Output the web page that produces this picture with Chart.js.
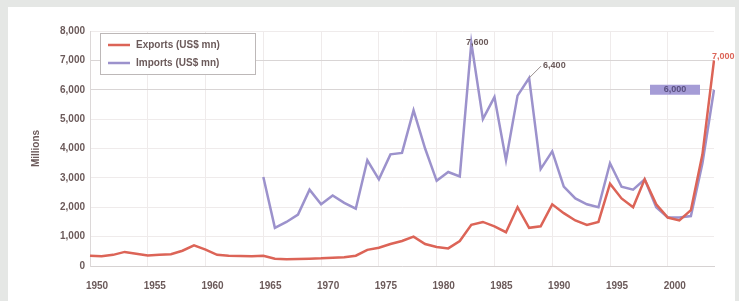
<!DOCTYPE html>
<html>
<head>
<meta charset="utf-8">
<script src="https://cdn.jsdelivr.net/npm/chart.js@4"></script>
<style>
  body { margin: 0; background: #e5e7e5; width: 739px; height: 301px; overflow: hidden; }
  #wrap { position: absolute; left: 8px; top: 7px; width: 727px; height: 294px; background: #ffffff; }
</style>
</head>
<body>
<div id="wrap"><canvas id="lineChart"></canvas></div>
<script>
// Categories (years) and series values
var years = [1950, 1951, 1952, 1953, 1954, 1955, 1956, 1957, 1958, 1959,
             1960, 1961, 1962, 1963, 1964, 1965, 1966, 1967, 1968, 1969,
             1970, 1971, 1972, 1973, 1974, 1975, 1976, 1977, 1978, 1979,
             1980, 1981, 1982, 1983, 1984, 1985, 1986, 1987, 1988, 1989,
             1990, 1991, 1992, 1993, 1994, 1995, 1996, 1997, 1998, 1999,
             2000, 2001, 2002, 2003, 2004];

var redValues = [350, 330, 380, 480, 420, 360, 380, 400, 520, 700,
                 560, 380, 350, 340, 330, 350, 250, 230, 240, 250,
                 260, 280, 300, 350, 550, 620, 750, 850, 1000, 750,
                 650, 600, 850, 1400, 1500, 1350, 1150, 2000, 1300, 1350,
                 2100, 1800, 1550, 1400, 1500, 2800, 2300, 2000, 2950, 2100,
                 1650, 1550, 1900, 3800, 7000];

var blueValues = [null, null, null, null, null, null, null, null, null, null,
                  null, null, null, null, null, 3030, 1300, 1500, 1750, 2600,
                  2100, 2400, 2150, 1950, 3600, 2950, 3800, 3850, 5300, 4000,
                  2900, 3200, 3050, 7600, 5000, 5750, 3600, 5800, 6400, 3300,
                  3900, 2700, 2300, 2100, 2000, 3500, 2700, 2600, 2950, 2000,
                  1650, 1650, 1700, 3500, 6000];

var seriesNames = ["Exports (US$ mn)", "Imports (US$ mn)"];
var yTicks = [0, 1000, 2000, 3000, 4000, 5000, 6000, 7000, 8000];

var textColor = "#6b5a5a";
var redColor = "#dc6457";
var blueColor = "#9c92cc";

// Legend box drawn inside the plot area, plus the point callouts
var overlayPlugin = {
    id: "overlay",
    afterDatasetsDraw: function (chart) {
        var ctx = chart.ctx;
        var area = chart.chartArea;
        ctx.save();

        // legend
        var lx = area.left + 10, ly = area.top + 2, lw = 155, lh = 41;
        ctx.fillStyle = "#ffffff";
        ctx.fillRect(lx, ly, lw, lh);
        ctx.strokeStyle = "#bdb8b8";
        ctx.lineWidth = 1;
        ctx.strokeRect(lx + 0.5, ly + 0.5, lw, lh);
        ctx.font = "bold 10px 'Liberation Sans', Arial, sans-serif";
        ctx.textBaseline = "middle";
        chart.data.datasets.forEach(function (ds, i) {
            var yy = ly + 12 + i * 18;
            ctx.strokeStyle = ds.borderColor;
            ctx.lineWidth = 2.5;
            ctx.beginPath();
            ctx.moveTo(lx + 8, yy);
            ctx.lineTo(lx + 30, yy);
            ctx.stroke();
            ctx.fillStyle = textColor;
            ctx.textAlign = "left";
            ctx.fillText(ds.label, lx + 36, yy);
        });

        // callouts on the blue series
        var blue = chart.getDatasetMeta(1).data;
        var red = chart.getDatasetMeta(0).data;
        ctx.font = "bold 9px 'Liberation Sans', Arial, sans-serif";
        ctx.fillStyle = textColor;

        var p1 = blue[33];
        ctx.textAlign = "center";
        ctx.fillText(blueValues[33].toLocaleString("en-US"), p1.x + 6, p1.y);

        var p2 = blue[38];
        ctx.strokeStyle = "#9a9090";
        ctx.lineWidth = 1;
        ctx.beginPath();
        ctx.moveTo(p2.x, p2.y);
        ctx.lineTo(p2.x + 12, p2.y - 12);
        ctx.stroke();
        ctx.textAlign = "left";
        ctx.fillText(blueValues[38].toLocaleString("en-US"), p2.x + 14, p2.y - 12);

        var p3 = blue[54];
        ctx.fillStyle = "#a59cd6";
        ctx.fillRect(p3.x - 64, p3.y - 5, 50, 10);
        ctx.fillStyle = "#5a5080";
        ctx.textAlign = "center";
        ctx.fillText(blueValues[54].toLocaleString("en-US"), p3.x - 39, p3.y);

        var p4 = red[54];
        ctx.fillStyle = redColor;
        ctx.textAlign = "left";
        ctx.fillText(redValues[54].toLocaleString("en-US"), p4.x - 2, p4.y - 4);

        ctx.restore();
    }
};

var data = {
    labels: years,
    datasets: [{
        label: seriesNames[0],
        data: redValues,
        borderColor: redColor,
        borderWidth: 2.5,
        pointRadius: 0,
        tension: 0
    }, {
        label: seriesNames[1],
        data: blueValues,
        borderColor: blueColor,
        borderWidth: 2.5,
        pointRadius: 0,
        tension: 0
    }]
};

var options = {
    responsive: true,
    maintainAspectRatio: false,
    animation: false,
    layout: { padding: { top: 24, right: 21, left: 18, bottom: 0 } },
    plugins: {
        legend: { display: false },
        tooltip: { enabled: false }
    },
    scales: {
        x: {
            type: "category",
            offset: false,
            afterFit: function (scale) { scale.height = 35; },
            grid: {
                drawTicks: false,
                color: function (c) {
                    return c.tick && years[c.index] % 5 === 0 ? "#efebeb" : "rgba(0,0,0,0)";
                }
            },
            border: { color: "#d6d2d2" },
            ticks: {
                autoSkip: false,
                maxRotation: 0,
                padding: 14,
                labelOffset: 7,
                color: textColor,
                font: { family: "'Liberation Sans', Arial, sans-serif", size: 10, weight: "bold" },
                callback: function (v, i) { return years[i] % 5 === 0 ? String(years[i]) : ""; }
            }
        },
        y: {
            min: 0,
            max: 8000,
            afterFit: function (scale) { scale.width = 64; },
            afterBuildTicks: function (scale) {
                scale.ticks = yTicks.map(function (v) { return { value: v }; });
            },
            grid: {
                drawTicks: false,
                color: function (c) {
                    if (!c.tick) return "#eeeaea";
                    return (c.tick.value === 6000 || c.tick.value === 7000) ? "#d9d5d5" : "#efebeb";
                }
            },
            border: { color: "#dcd8d8" },
            title: {
                display: true,
                text: "Millions",
                color: textColor,
                font: { family: "'Liberation Sans', Arial, sans-serif", size: 10, weight: "bold" }
            },
            ticks: {
                padding: 5,
                color: textColor,
                font: { family: "'Liberation Sans', Arial, sans-serif", size: 10, weight: "bold" },
                callback: function (v) { return Number(v).toLocaleString("en-US"); }
            }
        }
    }
};

var ctx = document.getElementById("lineChart").getContext("2d");
var lineChart = new Chart(ctx, {
    type: "line",
    data: data,
    options: options,
    plugins: [overlayPlugin]
});
</script>
</body>
</html>
